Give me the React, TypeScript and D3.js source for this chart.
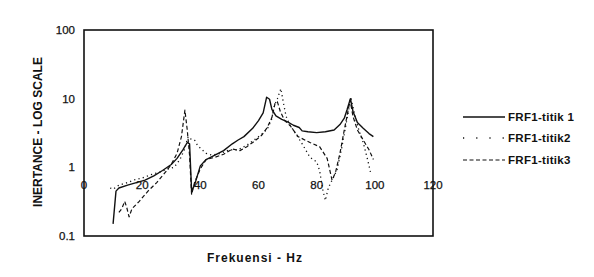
import React from "react";
import * as d3 from "d3";

const xTicks = [0, 20, 40, 60, 80, 100, 120];
const yTicks = [0.1, 1, 10, 100];
const yTickLabels = ["0.1", "1", "10", "100"];
const seriesNames = ["FRF1-titik 1", "FRF1-titik2", "FRF1-titik3"];

const titik1: [number, number][] = [
  [10, 0.15], [11, 0.45], [12, 0.5], [15, 0.55], [18, 0.6], [21, 0.65], [24, 0.75], [27, 0.9],
  [30, 1.1], [32, 1.35], [34, 1.8], [35.5, 2.3], [36.3, 2.2], [37, 0.45], [38, 0.55], [40, 1.05],
  [42, 1.3], [45, 1.5], [48, 1.75], [51, 2.2], [53, 2.5], [55, 2.8], [58, 3.7], [60, 4.8],
  [61.6, 6.2], [62.8, 10.5], [63.8, 9.8], [64.6, 7], [66, 5.6], [68, 5], [70, 4.6], [72, 4.1],
  [74, 3.8], [75, 3.4], [77, 3.3], [80, 3.2], [83, 3.3], [86, 3.5], [88, 4.2], [89.5, 5.2],
  [90.5, 7], [91.6, 10], [92.5, 6.5], [94, 4.5], [96, 3.7], [98, 3.1], [99.5, 2.8],
];

const titik2: [number, number][] = [
  [9, 0.5], [10, 0.48], [12, 0.55], [15, 0.6], [17, 0.65], [20, 0.7], [23, 0.78], [26, 0.85],
  [29, 0.95], [31, 1.0], [33, 1.3], [34.5, 1.8], [35.8, 2.8], [36.5, 2.6], [38, 2.5], [39, 2.1],
  [40, 1.9], [42, 1.6], [44, 1.5], [47, 1.6], [50, 1.8], [53, 1.8], [56, 2.1], [59, 2.6],
  [61, 3.0], [63, 3.6], [64.5, 5], [65.5, 8], [66.5, 10], [67.7, 14], [68.5, 9], [69.5, 5.5],
  [71, 4], [73, 3], [75, 2.2], [77.7, 1.4], [80, 1.2], [81, 0.9], [82.2, 0.45], [83, 0.33],
  [84, 0.5], [87, 0.92], [88.5, 1.8], [90.4, 5], [91.8, 10.4], [93, 6], [94.5, 3.5], [96, 2.3],
  [97.5, 1.3], [98.5, 0.85],
];

const titik3: [number, number][] = [
  [12, 0.22], [13, 0.25], [14, 0.32], [14.7, 0.26], [15.5, 0.19], [16.5, 0.25], [19, 0.32],
  [22, 0.45], [25, 0.6], [28, 0.85], [30, 1.1], [32, 1.6], [33.5, 2.8], [34.7, 6.8], [35.5, 3.5],
  [36.3, 1.5], [37, 0.4], [38, 0.6], [40, 0.95], [42, 1.3], [45, 1.4], [48, 1.55], [51, 1.85],
  [53.6, 1.75], [56, 2.0], [58, 2.3], [61, 2.9], [63, 3.8], [64.6, 5.3], [65.7, 8.6], [66.5, 9],
  [67.5, 6.5], [69, 4.8], [71, 4.0], [73.6, 2.8], [77.7, 2.3], [81, 2.0], [83.6, 1.35],
  [85.3, 0.65], [86.5, 0.85], [88, 1.6], [89.5, 3.5], [91.5, 9.5], [92.5, 5.5], [94, 3.5],
  [96, 2.5], [98, 1.8], [99.5, 1.3],
];

const seriesData = [titik1, titik2, titik3];
const dashes = [undefined, "1.2 3.2", "4 2.5"];
const widths = [1.4, 1.3, 1.2];

const W = 594;
const H = 277;
const left = 84;
const right = 433;
const top = 30;
const bottom = 236;

export default function App() {
  const x = d3.scaleLinear().domain([0, 120]).range([left, right]);
  const y = d3.scaleLog().domain([0.1, 100]).range([bottom, top]);
  const line = d3
    .line<[number, number]>()
    .x((d) => x(d[0]))
    .y((d) => y(d[1]));
  const font = "'Liberation Sans', Arial, sans-serif";
  const labelY = y(1) + 18;
  const legendY = [117, 138, 160];

  return (
    <svg
      width={W}
      height={H}
      style={{ position: "absolute", left: 0, top: 0, background: "#fff" }}
      fontFamily={font}
    >
      <rect x={0} y={0} width={W} height={H} fill="#fff" />
      <rect
        x={left}
        y={top}
        width={right - left}
        height={bottom - top}
        fill="none"
        stroke="#111"
        strokeWidth={1.6}
      />
      {seriesData.map((s, i) => (
        <path
          key={i}
          d={line(s) || ""}
          fill="none"
          stroke="#111"
          strokeWidth={widths[i]}
          strokeDasharray={dashes[i]}
          strokeLinejoin="round"
        />
      ))}
      {xTicks.map((t) => (
        <text
          key={t}
          x={x(t)}
          y={labelY}
          textAnchor="middle"
          dominantBaseline="central"
          fontSize={11.5}
          fill="#111"
          stroke="#111"
          strokeWidth={0.25}
        >
          {t}
        </text>
      ))}
      {yTicks.map((t, i) => (
        <text
          key={t}
          x={75}
          y={y(t)}
          textAnchor="end"
          dominantBaseline="central"
          fontSize={11.5}
          fill="#111"
          stroke="#111"
          strokeWidth={0.25}
        >
          {yTickLabels[i]}
        </text>
      ))}
      <text
        transform={`translate(37.5,132) rotate(-90)`}
        textAnchor="middle"
        dominantBaseline="central"
        fontSize={12}
        fontWeight="bold"
        fill="#111"
      >
        INERTANCE - LOG SCALE
      </text>
      <text
        x={255}
        y={258}
        textAnchor="middle"
        dominantBaseline="central"
        fontSize={12}
        fontWeight="bold"
        letterSpacing={1}
        fill="#111"
      >
        Frekuensi - Hz
      </text>
      {seriesNames.map((n, i) => (
        <g key={n}>
          <line
            x1={463}
            x2={505}
            y1={legendY[i]}
            y2={legendY[i]}
            stroke="#111"
            strokeWidth={widths[i]}
            strokeDasharray={i === 1 ? "1.2 12" : dashes[i]}
          />
          <text
            x={508}
            y={legendY[i]}
            dominantBaseline="central"
            fontSize={11.5}
            fontWeight="bold"
            letterSpacing={0.3}
            fill="#111"
          >
            {n}
          </text>
        </g>
      ))}
    </svg>
  );
}
